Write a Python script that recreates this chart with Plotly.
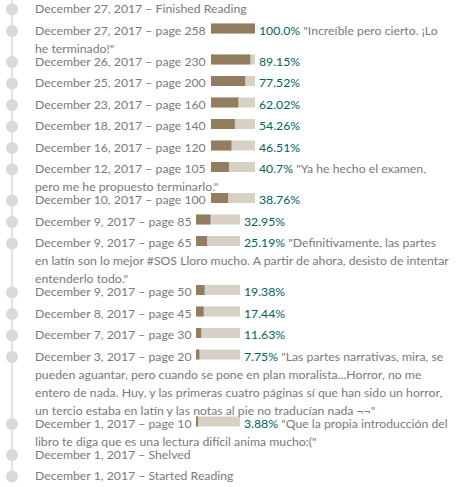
import plotly.graph_objects as go

# reading timeline, newest first
dates = ["December 27, 2017", "December 27, 2017", "December 26, 2017", "December 25, 2017",
         "December 23, 2017", "December 18, 2017", "December 16, 2017", "December 12, 2017",
         "December 10, 2017", "December 9, 2017", "December 9, 2017", "December 9, 2017",
         "December 8, 2017", "December 7, 2017", "December 3, 2017", "December 1, 2017",
         "December 1, 2017", "December 1, 2017"]
pages = [None, 258, 230, 200, 160, 140, 120, 105, 100, 85, 65, 50, 45, 30, 20, 10, None, None]
status = ["Finished Reading", None, None, None, None, None, None, None, None, None, None, None,
          None, None, None, None, "Shelved", "Started Reading"]
percents = [None, "100.0", "89.15", "77.52", "62.02", "54.26", "46.51", "40.7", "38.76",
            "32.95", "25.19", "19.38", "17.44", "11.63", "7.75", "3.88", None, None]
pct_values = [None, 100.0, 89.15, 77.52, 62.02, 54.26, 46.51, 40.7, 38.76,
              32.95, 25.19, 19.38, 17.44, 11.63, 7.75, 3.88, None, None]
quotes = {
    1: ['"Increíble pero cierto. ¡Lo', 'he terminado!"'],
    7: ['"Ya he hecho el examen,', 'pero me he propuesto terminarlo."'],
    10: ['"Definitivamente, las partes',
         'en latín son lo mejor #SOS Lloro mucho. A partir de ahora, desisto de intentar',
         'entenderlo todo."'],
    14: ['"Las partes narrativas, mira, se',
         'pueden aguantar, pero cuando se pone en plan moralista...Horror, no me',
         'entero de nada. Huy, y las primeras cuatro páginas sí que han sido un horror,',
         'un tercio estaba en latín y las notas al pie no traducían nada ¬¬"'],
    15: ['"Que la propia introducción del',
         'libro te diga que es una lectura difícil anima mucho:("'],
}

TEXT = "#7a7a7a"
TEAL = "#00635d"
DARK = "#927d60"
LIGHT = "#d7d1c5"
FONT = "Lato, 'Open Sans', sans-serif"
BAR_W = 44

fig = go.Figure()
annotations = []
dot_y = []
bar_y, bar_base, bar_len = [], [], []


def note(x, y, text):
    return dict(x=x, y=y, text=text, xanchor="left", yanchor="middle", borderpad=0,
                showarrow=False, font=dict(color=TEXT))


y = 8.5
for i, d in enumerate(dates):
    lines = quotes.get(i, [])
    dot_y.append(y + 1)
    if pages[i] is None:
        label = f"{d} – {status[i]}"
    else:
        label = f"{d} – page {pages[i]}"
    annotations.append(note(34, y, label))
    if pages[i] is not None:
        left = 211 - 7.5 * (28 - len(label))
        bar_y.append(y - 1.5)
        bar_base.append(left)
        bar_len.append(pct_values[i] * BAR_W / 100)
        txt = f'<span style="color:{TEAL}">{percents[i]}%</span>'
        if lines:
            txt += " " + lines[0]
        annotations.append(note(left + 47, y, txt))
    for k, extra in enumerate(lines[1:], start=1):
        annotations.append(note(34, y + 18 * k, extra))
    n = len(lines) if lines else 1
    y += 21.5 if n == 1 else 18 * (n - 1) + 13

# timeline line and dots
fig.add_trace(go.Scatter(x=[12, 12], y=[0, dot_y[-1]], mode="lines",
                         line=dict(color="#e3e3e3", width=2), hoverinfo="skip"))
fig.add_trace(go.Scatter(x=[12] * len(dot_y), y=dot_y, mode="markers",
                         marker=dict(size=12, color="#d9d9d9"), hoverinfo="skip"))

# progress bars
fig.add_trace(go.Bar(y=bar_y, x=[BAR_W] * len(bar_y), base=bar_base, orientation="h",
                     width=10, marker=dict(color=LIGHT, line=dict(width=0)), hoverinfo="skip"))
fig.add_trace(go.Bar(y=bar_y, x=bar_len, base=bar_base, orientation="h",
                     width=10, marker=dict(color=DARK, line=dict(width=0)), hoverinfo="skip"))

fig.update_layout(
    width=460, height=487,
    margin=dict(l=0, r=0, t=0, b=0),
    paper_bgcolor="white", plot_bgcolor="white",
    barmode="overlay", showlegend=False,
    font=dict(family=FONT, size=12.25, color=TEXT),
    annotations=annotations,
    xaxis=dict(range=[0, 460], visible=False, fixedrange=True),
    yaxis=dict(range=[487, 0], visible=False, fixedrange=True),
)

# drop the page's default body margin so the figure sits at the window corner
fig.write_html("out.html", config={"displayModeBar": False},
               post_script="document.body.style.margin='0';")
